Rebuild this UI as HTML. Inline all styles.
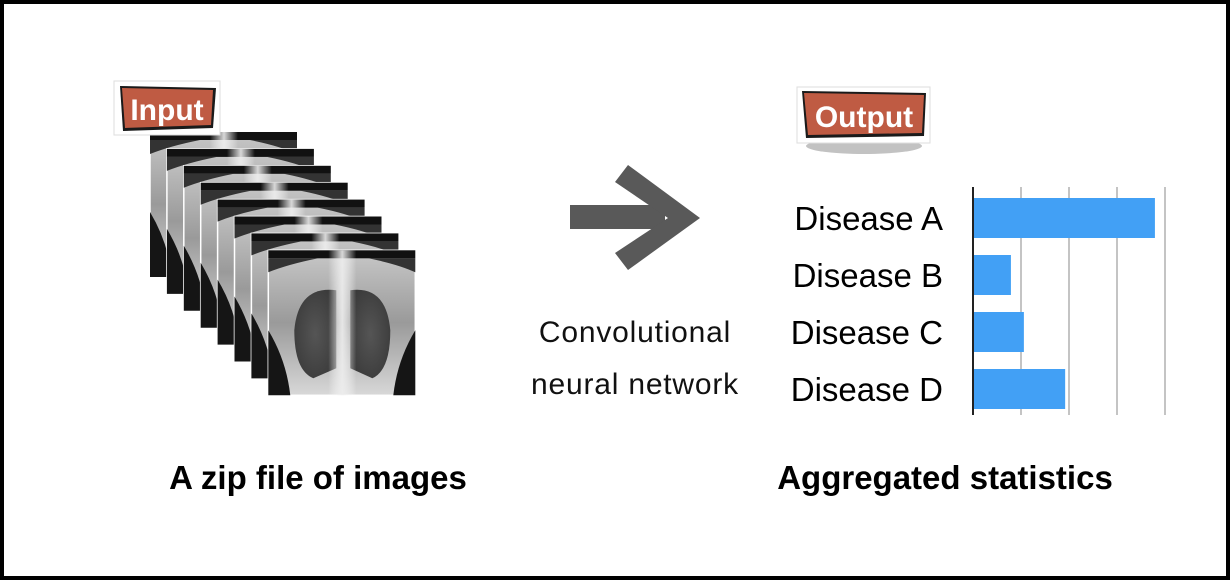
<!DOCTYPE html>
<html><head><meta charset="utf-8"><style>
body{margin:0;width:1230px;height:580px;overflow:hidden;background:#fff}
svg text{font-family:"Liberation Sans",sans-serif}
</style></head><body>
<svg width="1230" height="580">
<defs>
<linearGradient id="bg" x1="0" y1="0" x2="0" y2="1"><stop offset="0" stop-color="#c8c8c8"/><stop offset="0.5" stop-color="#9a9a9a"/><stop offset="1" stop-color="#d8d8d8"/></linearGradient>
<linearGradient id="sp" x1="0" x2="1"><stop offset="0" stop-color="#fff" stop-opacity="0"/><stop offset="0.5" stop-color="#eee" stop-opacity="0.9"/><stop offset="1" stop-color="#fff" stop-opacity="0"/></linearGradient>
<radialGradient id="lung" cx="0.5" cy="0.5" r="0.6"><stop offset="0" stop-color="#555"/><stop offset="1" stop-color="#3a3a3a"/></radialGradient>
</defs>
<rect x="2" y="2" width="1226" height="576" fill="#fff" stroke="#000" stroke-width="4"/>
<g id="stack"></g>
<g>
<rect x="114" y="81" width="106" height="54" fill="#fff" stroke="#ddd"/>
<polygon points="120,86 216,88 213,128 123,131" fill="#1a1a1a"/>
<polygon points="122,88 213,90 211,125 125,128" fill="#bf5b43"/>
<text x="167" y="120" font-size="30" font-weight="bold" fill="#fff" text-anchor="middle">Input</text>
</g>
<g>
<ellipse cx="864" cy="146" rx="58" ry="8" fill="#999" opacity="0.6"/>
<rect x="797" y="87" width="133" height="56" fill="#fff" stroke="#ddd"/>
<polygon points="802,91 926,93 924,136 806,138" fill="#1a1a1a"/>
<polygon points="804,93 924,95 922,133 808,135" fill="#bf5b43"/>
<text x="864" y="127" font-size="30" font-weight="bold" fill="#fff" text-anchor="middle">Output</text>
</g>
<g fill="#595959">
<rect x="570" y="205" width="95" height="24"/>
<polygon points="615,182 628,165 700,218 628,270 615,253 668,218"/>
</g>
<text x="635" y="342" font-size="30" letter-spacing="0.8" text-anchor="middle" fill="#111">Convolutional</text>
<text x="635" y="394" font-size="30" letter-spacing="0.8" text-anchor="middle" fill="#111">neural network</text>
<text x="318" y="489" font-size="33" font-weight="bold" text-anchor="middle" fill="#000">A zip file of images</text>
<text x="945" y="489" font-size="33" font-weight="bold" text-anchor="middle" fill="#000">Aggregated statistics</text>
<g id="chart"></g>
</svg>
<script>
const categories=["Disease A","Disease B","Disease C","Disease D"];
const values=[3.79,0.79,1.06,1.92];
const gridTicks=[1,2,3,4];
const NS="http://www.w3.org/2000/svg";
function mk(t,a,p){const e=document.createElementNS(NS,t);for(const k in a)e.setAttribute(k,a[k]);p.appendChild(e);return e;}
const st=document.getElementById('stack');
for(let i=0;i<8;i++){
 const x=150+i*16.9,y=132+i*16.9;
 const g=mk('g',{},st);
 
 
 mk('rect',{x:x,y:y,width:147,height:145,fill:'url(#bg)',stroke:'#fff','stroke-width':1.5},g);
 mk('rect',{x:x,y:y,width:147,height:8,fill:'#111'},g);
 mk('path',{d:`M${x} ${y+8} L${x+50} ${y+8} Q${x+20} ${y+14} ${x} ${y+22} Z`,fill:'#333'},g);
 mk('path',{d:`M${x+147} ${y+8} L${x+100} ${y+8} Q${x+130} ${y+14} ${x+147} ${y+22} Z`,fill:'#333'},g);
 mk('path',{d:`M${x} ${y+145} L${x} ${y+80} Q${x+18} ${y+110} ${x+22} ${y+145} Z`,fill:'#151515'},g);
 mk('path',{d:`M${x+147} ${y+145} L${x+147} ${y+80} Q${x+129} ${y+110} ${x+125} ${y+145} Z`,fill:'#151515'},g);
 mk('path',{d:`M${x+68} ${y+40} Q${x+30} ${y+35} ${x+26} ${y+80} Q${x+26} ${y+120} ${x+45} ${y+128} L${x+68} ${y+118} Z`,fill:'url(#lung)'},g);
 mk('path',{d:`M${x+82} ${y+40} Q${x+118} ${y+35} ${x+122} ${y+80} Q${x+122} ${y+120} ${x+104} ${y+128} L${x+82} ${y+118} Z`,fill:'url(#lung)'},g);
 mk('rect',{x:x+60,y:y,width:28,height:145,fill:'url(#sp)'},g);
}
const ch=document.getElementById('chart');
const x0=973,unit=48,axTop=187,axBottom=415;
const xs=v=>x0+v*unit;
const band=57,bh=40,y0=198;
gridTicks.forEach(t=>{const l=mk('line',{x1:xs(t),x2:xs(t),y1:axTop,y2:axBottom,stroke:'#c4c4c4','stroke-width':2},ch);
 
 });
categories.forEach((c,i)=>{
 const y=y0+i*band;
 const r=mk('rect',{x:x0,y:y,width:xs(values[i])-x0,height:bh,fill:'#42a0f5'},ch);
 
 
 const t=mk('text',{x:943,y:y+32,'font-size':33,'text-anchor':'end',fill:'#000'},ch);
 t.textContent=c;
 
 
});
const ax=mk('line',{x1:x0,x2:x0,y1:axTop,y2:axBottom,stroke:'#222','stroke-width':2},ch);


</script>
</body></html>
